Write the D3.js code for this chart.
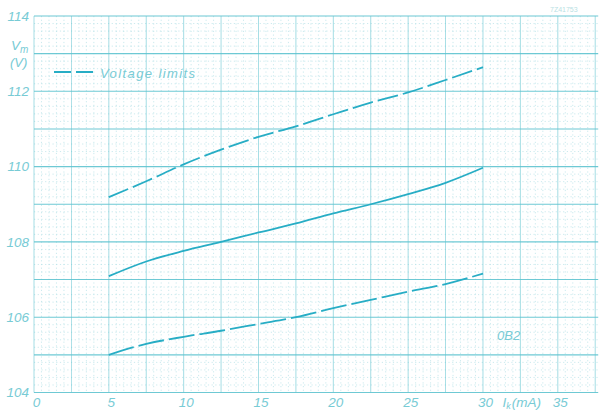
<!DOCTYPE html>
<html>
<head>
<meta charset="utf-8">
<script src="https://cdn.jsdelivr.net/npm/d3@7"></script>
<style>
  html, body { margin: 0; padding: 0; background: #ffffff; }
  svg { display: block; }
  .lbl { font-family: "Liberation Sans", Arial, sans-serif; font-style: italic; fill: #78cbd5; }
</style>
</head>
<body>
<svg id="chart" width="599" height="413"></svg>
<script>
// Cathode current (mA) at which the curves are read
const currentMA = [5, 7.5, 10, 12.5, 15, 17.5, 20, 22.5, 25, 27.5, 30];
// Upper voltage limit (V)
const upperLimit = [109.19, 109.61, 110.06, 110.45, 110.79, 111.07, 111.39, 111.70, 111.97, 112.30, 112.64];
// Nominal operating voltage (V)
const nominal = [107.09, 107.48, 107.76, 108.00, 108.25, 108.49, 108.76, 109.00, 109.27, 109.57, 109.97];
// Lower voltage limit (V)
const lowerLimit = [105.00, 105.29, 105.48, 105.64, 105.82, 106.00, 106.24, 106.46, 106.68, 106.88, 107.16];

// Axis tick labels
const xTicks = [0, 5, 10, 15, 20, 25, 30, 35];
const yTicks = [104, 106, 108, 110, 112, 114];

const svg = d3.select("#chart");

const x = d3.scaleLinear().domain([0, 35]).range([34, 557.8]);
const y = d3.scaleLinear().domain([104, 114]).range([392.5, 16]);

const gridColor = "#5fc4d0";
const minorColor = "#b4e1e6";
const curveColor = "#27adc5";

const xMax = 37.7;

// Graph-paper grid: minor lines every 0.5 mA / 0.2 V, major every 2.5 mA / 1 V
const grid = svg.append("g");
const minorX = d3.range(0, xMax, 0.5).filter(v => Math.abs(v / 2.5 - Math.round(v / 2.5)) > 1e-6);
const minorY = d3.range(104, 114, 0.2).filter(v => Math.abs(v - Math.round(v)) > 1e-6);
grid.selectAll("line.mx").data(minorX).join("line")
  .attr("x1", d => x(d)).attr("x2", d => x(d))
  .attr("y1", y(114)).attr("y2", y(104))
  .attr("stroke", minorColor).attr("stroke-width", 0.7)
  .attr("stroke-dasharray", "1.2,2.5");
grid.selectAll("line.my").data(minorY).join("line")
  .attr("x1", x(0)).attr("x2", x(xMax))
  .attr("y1", d => y(d)).attr("y2", d => y(d))
  .attr("stroke", minorColor).attr("stroke-width", 0.7)
  .attr("stroke-dasharray", "1.2,2.5");

const majorX = d3.range(0, xMax, 2.5);
const majorY = d3.range(104, 114.01, 1);
grid.selectAll("line.Mx").data(majorX).join("line")
  .attr("x1", d => x(d)).attr("x2", d => x(d))
  .attr("y1", y(114)).attr("y2", y(104))
  .attr("stroke", gridColor).attr("stroke-width", 0.8).attr("opacity", 0.7);
grid.selectAll("line.My").data(majorY).join("line")
  .attr("x1", x(0)).attr("x2", x(xMax))
  .attr("y1", d => y(d)).attr("y2", d => y(d))
  .attr("stroke", gridColor).attr("stroke-width", 1.1).attr("opacity", 0.9);

// Axes (labels only; the grid forms the frame)
const xAxis = svg.append("g")
  .attr("transform", `translate(0,${y(104) + 3})`)
  .call(d3.axisBottom(x).tickValues(xTicks).tickSize(0).tickPadding(2));
xAxis.select(".domain").remove();
xAxis.selectAll("text").attr("class", "lbl").attr("font-size", 13.5)
  .attr("dx", 2);

const yAxis = svg.append("g")
  .attr("transform", `translate(${x(0) - 3},0)`)
  .call(d3.axisLeft(y).tickValues(yTicks).tickSize(0).tickPadding(2));
yAxis.select(".domain").remove();
yAxis.selectAll("text").attr("class", "lbl").attr("font-size", 13.5);

// Axis titles
const ik = svg.append("text").attr("class", "lbl").attr("font-size", 13.5)
  .attr("x", x(31.3)).attr("y", y(104) + 14.5);
ik.append("tspan").text("I");
ik.append("tspan").attr("font-size", 9).attr("dy", 2).text("k");
ik.append("tspan").attr("dy", -2).attr("dx", 1).text("(mA)");

const vm = svg.append("text").attr("class", "lbl").attr("font-size", 13.5)
  .attr("x", 11).attr("y", 50);
vm.append("tspan").text("V");
vm.append("tspan").attr("font-size", 10).attr("dy", 3).text("m");
svg.append("text").attr("class", "lbl").attr("font-size", 13)
  .attr("x", 10).attr("y", 67).text("(V)");

// Curves
const line = d3.line()
  .x((d, i) => x(currentMA[i]))
  .y(d => y(d))
  .curve(d3.curveMonotoneX);

svg.append("path").datum(upperLimit)
  .attr("d", line).attr("fill", "none")
  .attr("stroke", curveColor).attr("stroke-width", 1.8)
  .attr("stroke-dasharray", "21,5");
svg.append("path").datum(nominal)
  .attr("d", line).attr("fill", "none")
  .attr("stroke", curveColor).attr("stroke-width", 1.8);
svg.append("path").datum(lowerLimit)
  .attr("d", line).attr("fill", "none")
  .attr("stroke", curveColor).attr("stroke-width", 1.8)
  .attr("stroke-dasharray", "26,5");

// Legend
svg.append("line")
  .attr("x1", 54).attr("x2", 93).attr("y1", 72).attr("y2", 72)
  .attr("stroke", curveColor).attr("stroke-width", 1.8)
  .attr("stroke-dasharray", "17,5");
svg.append("text").attr("class", "lbl").attr("font-size", 13)
  .attr("letter-spacing", 1.4)
  .attr("x", 100).attr("y", 78).text("Voltage limits");

// Tube type
svg.append("text").attr("class", "lbl").attr("font-size", 13)
  .attr("x", 497).attr("y", 340).text("0B2");

// Drawing reference code
svg.append("text").attr("font-family", "Liberation Sans, Arial, sans-serif")
  .attr("font-size", 7).attr("fill", "#b9dfe4")
  .attr("x", 550).attr("y", 12).text("7Z41753");
</script>
</body>
</html>
